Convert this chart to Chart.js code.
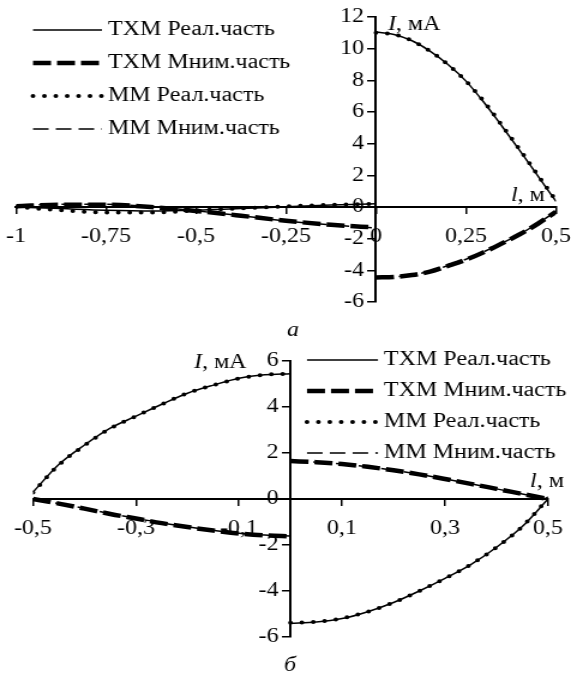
<!DOCTYPE html>
<html>
<head>
<meta charset="utf-8">
<script src="https://cdn.jsdelivr.net/npm/chart.js@4.4.1/dist/chart.umd.min.js"></script>
<style>
  html, body { margin: 0; padding: 0; background: #fff; }
  #wrap { position: relative; width: 571px; height: 674px; overflow: hidden; }
  /* the source figure is stretched sideways, so each canvas is drawn narrower and scaled */
  .box { position: absolute; left: 0; width: 476px; transform-origin: 0 0; transform: scaleX(1.19958); }
</style>
</head>
<body>
<div id="wrap">
  <div class="box" style="top:0;height:340px"><canvas id="chartA" width="476" height="340"></canvas></div>
  <div class="box" style="top:340px;height:334px"><canvas id="chartB" width="476" height="334"></canvas></div>
</div>
<script>
const seriesNames = ['ТХМ Реал.часть', 'ТХМ Мним.часть', 'ММ Реал.часть', 'ММ Мним.часть'];

// chart а: l from -1 to 0 (left part) and 0 to 0.5 (right part)
const xLeftA = [-1, -0.875, -0.75, -0.625, -0.5, -0.375, -0.25, -0.125, 0];
const xRightA = [0, 0.05, 0.1, 0.15, 0.2, 0.25, 0.3, 0.35, 0.4, 0.45, 0.5];
const txmReLeftA = [0, -0.1, -0.2, -0.25, -0.2, -0.1, 0.02, 0.12, 0.2];
const txmReRightA = [11.05, 10.9, 10.5, 9.85, 9.0, 7.95, 6.6, 5.1, 3.55, 1.95, 0.35];
const txmImLeftA = [0.05, 0.15, 0.15, 0.0, -0.25, -0.55, -0.87, -1.12, -1.3];
const txmImRightA = [-4.45, -4.42, -4.3, -4.08, -3.72, -3.33, -2.85, -2.3, -1.72, -1.05, -0.3];
const mmReLeftA = [0, -0.2, -0.35, -0.35, -0.22, -0.08, 0.04, 0.14, 0.2];
const mmReRightA = [11.0, 10.9, 10.5, 9.85, 9.0, 7.95, 6.65, 5.15, 3.6, 2.0, 0.4];
const mmImLeftA = [0.08, 0.18, 0.17, 0.02, -0.24, -0.55, -0.88, -1.13, -1.32];
const mmImRightA = [-4.4, -4.4, -4.28, -4.06, -3.7, -3.3, -2.82, -2.28, -1.7, -1.03, -0.28];
const xTicksA = [-1, -0.75, -0.5, -0.25, 0, 0.25, 0.5];
const yTicksA = [-6, -4, -2, 0, 2, 4, 6, 8, 10, 12];

// chart б: l from -0.5 to 0 and 0 to 0.5
const xLeftB = [-0.5, -0.45, -0.4, -0.35, -0.3, -0.25, -0.2, -0.15, -0.1, -0.05, 0];
const xRightB = [0, 0.05, 0.1, 0.15, 0.2, 0.25, 0.3, 0.35, 0.4, 0.45, 0.5];
const txmReLeftB = [0.3, 1.5, 2.35, 3.08, 3.6, 4.12, 4.6, 4.95, 5.25, 5.4, 5.45];
const txmReRightB = [-5.4, -5.35, -5.2, -4.9, -4.5, -4.0, -3.45, -2.85, -2.1, -1.2, 0.0];
const txmImLeftB = [0, -0.2, -0.42, -0.65, -0.85, -1.05, -1.22, -1.37, -1.5, -1.58, -1.62];
const txmImRightB = [1.65, 1.6, 1.52, 1.4, 1.25, 1.07, 0.87, 0.66, 0.44, 0.22, 0.0];
const mmReLeftB = [0.28, 1.48, 2.33, 3.07, 3.6, 4.12, 4.6, 4.95, 5.24, 5.4, 5.44];
const mmReRightB = [-5.38, -5.34, -5.19, -4.9, -4.5, -4.0, -3.45, -2.85, -2.1, -1.2, 0.02];
const mmImLeftB = [0, -0.2, -0.41, -0.64, -0.84, -1.04, -1.21, -1.36, -1.49, -1.57, -1.61];
const mmImRightB = [1.64, 1.6, 1.52, 1.4, 1.25, 1.07, 0.87, 0.66, 0.44, 0.22, 0.0];
const xTicksB = [-0.5, -0.3, -0.1, 0.1, 0.3, 0.5];
const yTicksB = [-6, -4, -2, 0, 2, 4, 6];

const FONT = '"Liberation Serif", "Times New Roman", serif';
const S = 571 / 476;   // sideways stretch of the canvases
const px = v => v / S; // page x -> canvas x

const lineStyles = [
  { borderWidth: 1.5, borderDash: [], borderCapStyle: 'butt' },
  { borderWidth: 4.5, borderDash: [15, 5], borderCapStyle: 'butt' },
  { borderWidth: 4, borderDash: [0, 9.5], borderCapStyle: 'round' },
  { borderWidth: 1.5, borderDash: [13, 6], borderCapStyle: 'butt' }
];

// left and right parts joined with a gap at l = 0
function joinParts(xl, yl, xr, yr) {
  const left = xl.map((x, i) => ({ x: x, y: yl[i] }));
  const right = xr.map((x, i) => ({ x: x, y: yr[i] }));
  return left.concat([{ x: 0, y: null }], right);
}

function fmt(v) {
  return String(v).replace('.', ',');
}

const decor = {
  id: 'decor',
  afterDraw(chart, args, o) {
    const ctx = chart.ctx;
    ctx.save();
    ctx.fillStyle = '#000';
    ctx.strokeStyle = '#000';
    ctx.textBaseline = 'middle';
    ctx.textAlign = 'left';
    // legend
    chart.data.datasets.forEach((ds, i) => {
      const y = o.legendY + i * o.legendStep;
      ctx.save();
      ctx.lineWidth = ds.borderWidth;
      ctx.setLineDash(ds.borderDash);
      ctx.lineCap = ds.borderCapStyle;
      ctx.beginPath();
      ctx.moveTo(px(o.legendX), y);
      ctx.lineTo(px(o.legendX + o.legendLen), y);
      ctx.stroke();
      ctx.restore();
      ctx.font = '20px ' + FONT;
      ctx.fillText(ds.label, px(o.legendX + o.legendLen + 6), y);
    });
    // axis titles
    o.titles.forEach(t => {
      ctx.font = 'italic 20px ' + FONT;
      ctx.fillText(t.it, px(t.x), t.y);
      const w = ctx.measureText(t.it).width;
      ctx.font = '20px ' + FONT;
      ctx.fillText(t.rest, px(t.x) + w, t.y);
    });
    // caption
    ctx.font = 'italic 20px ' + FONT;
    ctx.textAlign = 'center';
    ctx.fillText(o.caption.text, px(o.caption.x), o.caption.y);
    ctx.restore();
  }
};

function makeChart(id, datasets, xMin, xMax, yMin, yMax, xTicks, yTicks, padding, decorOpts) {
  const axisCommon = {
    type: 'linear',
    grid: { drawOnChartArea: false, drawTicks: true, tickLength: 6, color: '#000', lineWidth: 1.5 },
    border: { display: true, color: '#000', width: 2 },
    // the layout padding alone decides where the plot sits
    afterFit: s => { s.paddingLeft = 0; s.paddingRight = 0; s.paddingTop = 0; s.paddingBottom = 0; }
  };
  return new Chart(document.getElementById(id), {
    type: 'line',
    data: {
      datasets: datasets.map((d, i) => Object.assign({
        label: seriesNames[i],
        data: d,
        borderColor: '#000',
        backgroundColor: '#000',
        pointRadius: 0,
        fill: false,
        spanGaps: false,
        cubicInterpolationMode: 'monotone'
      }, lineStyles[i]))
    },
    options: {
      responsive: false,
      animation: false,
      devicePixelRatio: 1,
      layout: { padding: padding },
      plugins: { legend: { display: false }, tooltip: { enabled: false }, decor: decorOpts },
      scales: {
        x: Object.assign({}, axisCommon, {
          min: xMin, max: xMax,
          position: { y: 0 },
          afterBuildTicks: s => { s.ticks = xTicks.map(v => ({ value: v })); },
          ticks: { autoSkip: false, maxRotation: 0, padding: 12, color: '#000', font: { family: FONT, size: 20 }, callback: v => fmt(v) }
        }),
        y: Object.assign({}, axisCommon, {
          min: yMin, max: yMax,
          position: { x: 0 },
          afterBuildTicks: s => { s.ticks = yTicks.map(v => ({ value: v })); },
          // labels sit on the axis line here, trailing spaces move them to the left
          ticks: { color: '#000', font: { family: FONT, size: 20 }, callback: v => fmt(v) + '  ' }
        })
      }
    },
    plugins: [decor]
  });
}

makeChart('chartA', [
  joinParts(xLeftA, txmReLeftA, xRightA, txmReRightA),
  joinParts(xLeftA, txmImLeftA, xRightA, txmImRightA),
  joinParts(xLeftA, mmReLeftA, xRightA, mmReRightA),
  joinParts(xLeftA, mmImLeftA, xRightA, mmImRightA)
], -1, 0.5, -6, 12, xTicksA, yTicksA,
  { left: px(16), right: px(15), top: 17, bottom: 38 },
  {
    legendX: 33, legendLen: 69, legendY: 30, legendStep: 33,
    titles: [{ it: 'I', rest: ', мА', x: 388, y: 25 }, { it: 'l', rest: ', м', x: 511, y: 196 }],
    caption: { text: 'а', x: 293, y: 331 }
  });

makeChart('chartB', [
  joinParts(xLeftB, txmReLeftB, xRightB, txmReRightB),
  joinParts(xLeftB, txmImLeftB, xRightB, txmImRightB),
  joinParts(xLeftB, mmReLeftB, xRightB, mmReRightB),
  joinParts(xLeftB, mmImLeftB, xRightB, mmImRightB)
], -0.5, 0.5, -6, 6, xTicksB, yTicksB,
  { left: px(33), right: px(23), top: 21, bottom: 37 },
  {
    legendX: 307, legendLen: 71, legendY: 20, legendStep: 31,
    titles: [{ it: 'I', rest: ', мА', x: 194, y: 23 }, { it: 'l', rest: ', м', x: 530, y: 142 }],
    caption: { text: 'б', x: 290, y: 326 }
  });
</script>
</body>
</html>
